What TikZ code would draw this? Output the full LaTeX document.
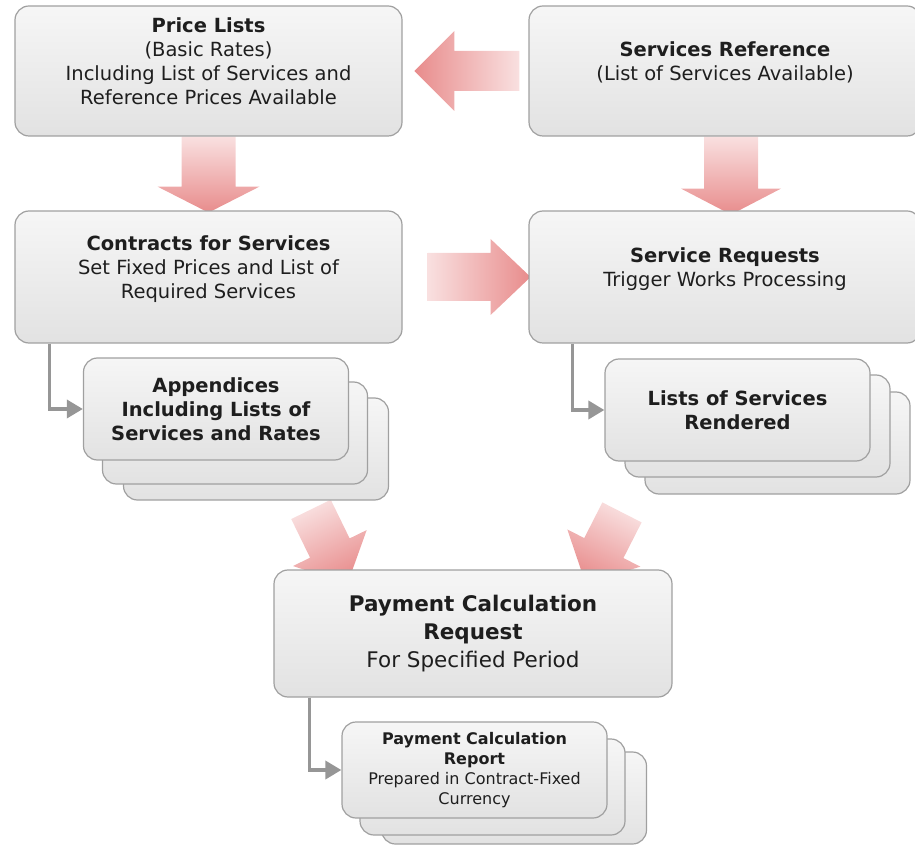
\documentclass[tikz,border=0pt]{standalone}
\usepackage{fontspec}
\setmainfont{DejaVu Sans}
\usetikzlibrary{arrows.meta,backgrounds,calc}

\definecolor{boxline}{RGB}{160,160,160}
\definecolor{boxtop}{RGB}{246,246,246}
\definecolor{boxbottom}{RGB}{226,226,226}
\definecolor{textgrey}{RGB}{30,30,30}
\definecolor{arrowlight}{RGB}{249,224,224}
\definecolor{arrowdark}{RGB}{232,140,140}
\definecolor{elbowgrey}{RGB}{150,150,150}

% tail, angle, length, half body, half head, head length
\newcommand{\fatarrow}[6]{%
  \pgfmathsetmacro\shadeang{#2+90}
  \begin{scope}[shift={#1}, rotate=#2]
    \shade[top color=arrowlight, bottom color=arrowdark, shading angle=\shadeang]
      (0,-#4) -- ({#3-#6},-#4) -- ({#3-#6},-#5) -- (#3,0)
      -- ({#3-#6},#5) -- ({#3-#6},#4) -- (0,#4) -- cycle;
  \end{scope}}

\begin{document}
\begin{tikzpicture}[x=1pt, y=1pt,
    box/.style={draw=boxline, line width=1.2pt, rounded corners=14pt,
      top color=boxtop, bottom color=boxbottom, text=textgrey, align=center,
      inner sep=0pt, font=\fontsize{19.5}{24}\selectfont},
    bigbox/.style={box, minimum width=387pt, minimum height=130pt, text depth=20pt},
    card/.style={box, minimum width=265pt, minimum height=102pt},
    elbow/.style={draw=elbowgrey, line width=3.5pt, -{Triangle[length=16pt, width=18pt]}}]
    \useasboundingbox (0,0) rectangle (915,855);

    % top row
    \node[bigbox] (price) at (208.5,784) {\textbf{Price Lists}\\(Basic Rates)\\Including List of Services and\\Reference Prices Available};
    \node[bigbox, minimum width=392pt] (servref) at (725,784) {\textbf{Services Reference}\\(List of Services Available)};

    % second row
    \node[bigbox, minimum height=132pt] (contracts) at (208.5,578) {\textbf{Contracts for Services}\\Set Fixed Prices and List of\\Required Services};
    \node[bigbox, minimum height=132pt, minimum width=392pt] (servreq) at (725,578) {\textbf{Service Requests}\\Trigger Works Processing};

    % stacked documents
    \node[card] (appx3) at (256,406) {};
    \node[card] (appx2) at (235,422) {};
    \node[card, font=\bfseries\fontsize{19.5}{24}\selectfont] (appx) at (216,446) {Appendices\\Including Lists of\\Services and Rates};

    \node[card] (lists3) at (777.5,412) {};
    \node[card] (lists2) at (757.5,429) {};
    \node[card, font=\bfseries\fontsize{19.5}{24}\selectfont] (lists) at (737.5,445) {Lists of Services\\Rendered};

    % payment
    \node[box, minimum width=398pt, minimum height=127pt, font=\fontsize{21.5}{28}\selectfont] (payreq) at (473,221.5) {\textbf{Payment Calculation}\\\textbf{Request}\\For Specified Period};

    \node[card, minimum height=92pt] (report3) at (514,57) {};
    \node[card, minimum height=96pt] (report2) at (492.5,68) {};
    \node[card, minimum height=96pt, font=\fontsize{16}{20}\selectfont] (report) at (474.5,85) {\textbf{Payment Calculation}\\\textbf{Report}\\Prepared in Contract-Fixed\\Currency};

    \draw[elbow] ([xshift=35pt]contracts.south west) |- (appx.west);
    \draw[elbow] ([xshift=44pt]servreq.south west) |- (lists.west);
    \draw[elbow] ([xshift=36pt]payreq.south west) |- (report.west);

    \begin{pgfonlayer}{background}
        \fatarrow{(price.south)}{-90}{76}{27}{51}{26}
        \fatarrow{([xshift=6pt]servref.south)}{-90}{78}{27}{50}{26}
        \fatarrow{([xshift=-9pt]servref.west)}{180}{105}{20}{40}{40}
        \fatarrow{([xshift=25pt]contracts.east)}{0}{103}{24}{38}{40}
        \fatarrow{($(payreq.north)+(-162,60)$)}{-64}{83}{22}{41}{40}
        \fatarrow{($(payreq.north)+(149,57)$)}{-117}{80}{22}{41}{40}
    \end{pgfonlayer}
\end{tikzpicture}
\end{document}
